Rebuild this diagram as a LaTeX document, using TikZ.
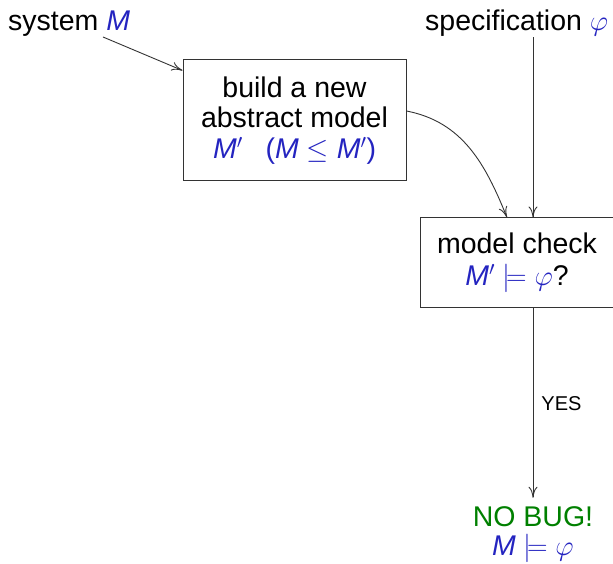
\RequirePackage{fix-cm}
\documentclass[tikz,border=0pt]{standalone}
\usepackage{fontspec}
\setmainfont{Liberation Sans}
\usetikzlibrary{arrows.meta}
\definecolor{sblue}{RGB}{36,36,192}
\definecolor{sgreen}{RGB}{0,128,0}
\newcommand{\bM}{\textcolor{sblue}{\textit{M}}}
\begin{document}
\begin{tikzpicture}[x=1pt,y=1pt,
  every node/.style={inner sep=0pt, font=\fontsize{28.5}{30.5}\selectfont},
  box/.style={draw=black!80, line width=1pt, align=center, inner sep=0pt},
  conn/.style={draw=black!80, line width=0.9pt, -{To[length=11pt,width=9pt]}},
]
\useasboundingbox (0,0) rectangle (613,564);
\node[anchor=base west] (sys) at (8,533) {system \bM};
\node[anchor=base west] (spec) at (425,533) {specification \textcolor{sblue}{$\varphi$}};
\node[box, minimum width=223pt, minimum height=121pt] (b1) at (294.5,443.5)
  {build a new\\abstract model\\\textcolor{sblue}{\textit{M}$'$\hspace{0.8em}(\textit{M} $\leq$ \textit{M}$'$)}};
\node[box, minimum width=194pt, minimum height=90pt, font=\fontsize{28.5}{32}\selectfont] (b2) at (517,301)
  {model check\\\textcolor{sblue}{\textit{M}$'\models\varphi$}?};
\node[align=center, font=\fontsize{28.5}{29}\selectfont] (nb) at (533,29)
  {\textcolor{sgreen}{NO BUG!}\\\textcolor{sblue}{\textit{M} $\models\varphi$}};
\coordinate (s0) at (103,527);
\draw[conn] (s0) -- ([yshift=-11pt]b1.north west);
\draw[conn] (spec.south -| nb.north) -- (b2.north -| nb.north);
\draw[conn] ([yshift=9.5pt]b1.east) to[out=-11,in=112] ([xshift=-10pt]b2.north);
\draw[conn] (b2.south -| nb.north) -- node[right, xshift=8pt, font=\fontsize{20}{24}\selectfont] (yes) {YES} ([yshift=9pt]nb.north);
\end{tikzpicture}
\end{document}
